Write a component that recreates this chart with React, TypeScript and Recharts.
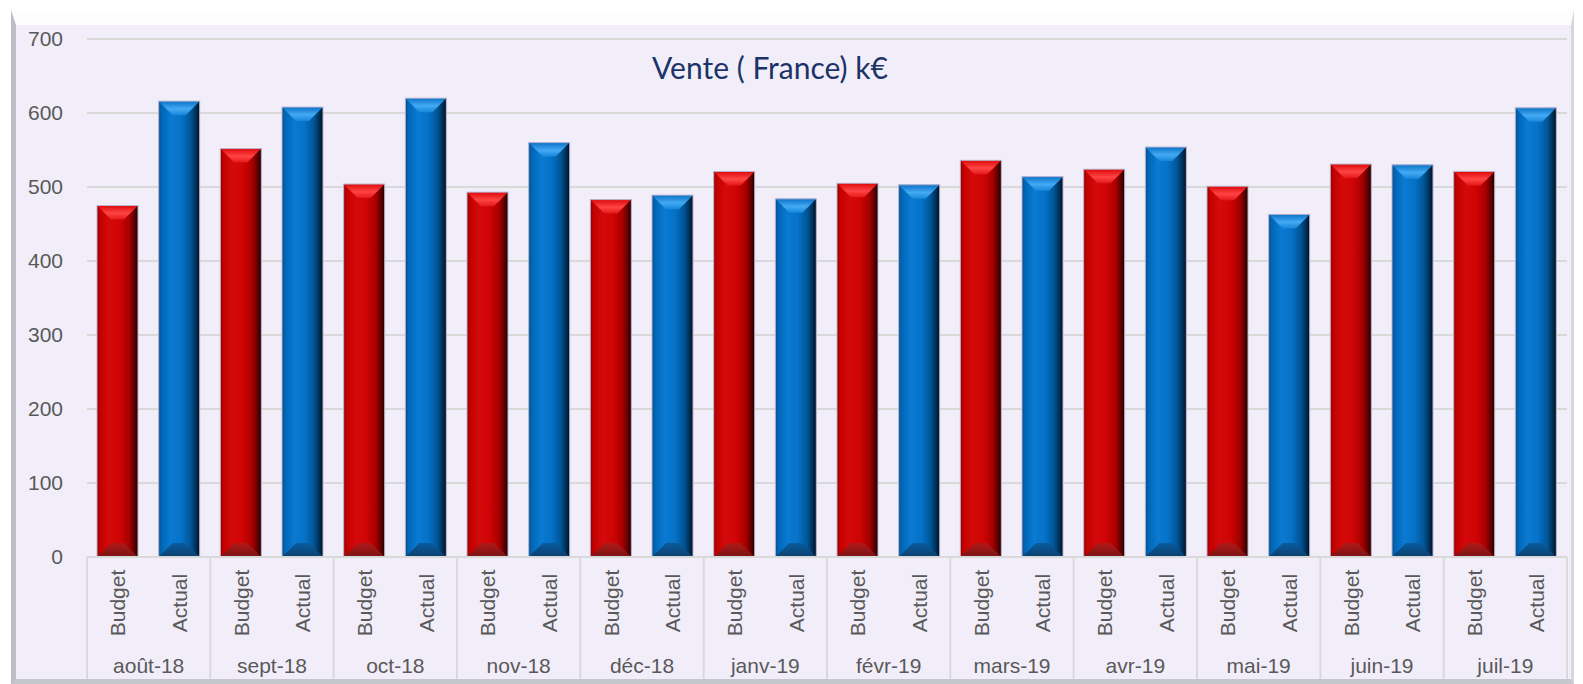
import { BarChart, Bar, XAxis, YAxis, CartesianGrid, Cell } from "recharts";

const months = [
  "août-18",
  "sept-18",
  "oct-18",
  "nov-18",
  "déc-18",
  "janv-19",
  "févr-19",
  "mars-19",
  "avr-19",
  "mai-19",
  "juin-19",
  "juil-19",
];
const kinds = ["Budget", "Actual"];
const budget = [475, 552, 504, 493, 483, 521, 505, 536, 524, 501, 531, 521];
const actual = [616, 608, 620, 560, 489, 484, 503, 514, 554, 463, 530, 607];
const yTicks = [0, 100, 200, 300, 400, 500, 600, 700];

const rows = months.flatMap((m, i) => [
  { slot: `${m} ${kinds[0]}`, month: m, kind: kinds[0], value: budget[i] },
  { slot: `${m} ${kinds[1]}`, month: m, kind: kinds[1], value: actual[i] },
]);

const W = 1583;
const H = 684;
const M = { top: 39, right: 16, bottom: 0, left: 0 };
const Y_W = 87;
const X_H = 127;
const SLOT = (W - M.left - M.right - Y_W) / rows.length;
const FONT = "'Liberation Sans', Arial, sans-serif";
const GRID = "#D9D9D9";

function BevelBar(props: any) {
  const { x, y, width: w, height: h, fill } = props;
  if (!h || h <= 0) return null;
  const k = fill === "red" ? "r" : "b";
  const b = Math.min(14, h / 2, w / 2);
  return (
    <g>
      <rect x={x} y={y} width={w} height={h} fill={`url(#${k}Body)`} />
      <polygon
        points={`${x},${y} ${x + w},${y} ${x + w - b},${y + b} ${x + b},${y + b}`}
        fill={`url(#${k}Top)`}
      />
      <polygon
        points={`${x},${y + h} ${x + w},${y + h} ${x + w - b},${y + h - b} ${x + b},${y + h - b}`}
        fill={`url(#${k}Bot)`}
      />
      <rect x={x} y={y} width={w} height={h} fill="none" stroke="#B9B4CF" strokeWidth={1} />
    </g>
  );
}

function CategoryTick(props: any) {
  const { x, y, index } = props;
  const row = rows[index];
  const first = index % 2 === 0;
  return (
    <g>
      <text
        x={x}
        y={y + 46}
        transform={`rotate(-90 ${x} ${y + 46})`}
        textAnchor="middle"
        dominantBaseline="central"
        fontFamily={FONT}
        fontSize={21}
        fill="#595959"
      >
        {row.kind}
      </text>
      {first && (
        <>
          <line x1={x - SLOT / 2} x2={x - SLOT / 2} y1={y} y2={y + 122} stroke={GRID} strokeWidth={2} />
          <text
            x={x + SLOT / 2}
            y={y + 108}
            textAnchor="middle"
            dominantBaseline="central"
            fontFamily={FONT}
            fontSize={21}
            fill="#595959"
          >
            {row.month}
          </text>
        </>
      )}
      {index === rows.length - 1 && (
        <line x1={x + SLOT / 2} x2={x + SLOT / 2} y1={y} y2={y + 122} stroke={GRID} strokeWidth={2} />
      )}
    </g>
  );
}

export default function App() {
  return (
    <div style={{ position: "absolute", left: 0, top: 0, width: W, height: H, background: "#fff" }}>
      <div
        style={{
          position: "absolute",
          left: 11,
          top: 10,
          width: 1570 - 11 - 4,
          height: 684 - 10 - 15 - 5,
          background: "#F2EEF9",
          borderTop: "15px solid #FDFDFE",
          borderLeft: "5px solid #BDBDC6",
          borderBottom: "5px solid #C6C6CE",
          borderRight: "3px solid #D6D6DE",
        }}
      />
      <div
        style={{
          position: "absolute",
          left: 570,
          top: 47,
          width: 400,
          textAlign: "center",
          fontFamily: "Lato, 'Open Sans', sans-serif",
          fontSize: 30,
          lineHeight: "40px",
          color: "#1B3368",
        }}
      >
        Vente ( France) k€
      </div>
      <div style={{ position: "absolute", left: 0, top: 0 }}>
        <BarChart width={W} height={H} data={rows} margin={M} barSize={41}>
          <defs>
            <linearGradient id="rBody" x1="0" y1="0" x2="1" y2="0">
              <stop offset="0%" stopColor="#8E0000" />
              <stop offset="7%" stopColor="#C20000" />
              <stop offset="30%" stopColor="#D40A0A" />
              <stop offset="55%" stopColor="#CF0404" />
              <stop offset="78%" stopColor="#A80000" />
              <stop offset="92%" stopColor="#580000" />
              <stop offset="100%" stopColor="#1E0000" />
            </linearGradient>
            <linearGradient id="rTop" x1="0" y1="0" x2="0" y2="1">
              <stop offset="0%" stopColor="#DD0A0A" />
              <stop offset="55%" stopColor="#FF4444" />
              <stop offset="100%" stopColor="#E41818" />
            </linearGradient>
            <linearGradient id="rBot" x1="0" y1="0" x2="0" y2="1">
              <stop offset="0%" stopColor="#B01818" />
              <stop offset="100%" stopColor="#7A1414" />
            </linearGradient>
            <linearGradient id="bBody" x1="0" y1="0" x2="1" y2="0">
              <stop offset="0%" stopColor="#084A86" />
              <stop offset="7%" stopColor="#0066B6" />
              <stop offset="30%" stopColor="#0A7AD2" />
              <stop offset="55%" stopColor="#0672C8" />
              <stop offset="78%" stopColor="#005596" />
              <stop offset="92%" stopColor="#002C52" />
              <stop offset="100%" stopColor="#000E1E" />
            </linearGradient>
            <linearGradient id="bTop" x1="0" y1="0" x2="0" y2="1">
              <stop offset="0%" stopColor="#0A72C8" />
              <stop offset="55%" stopColor="#44AAF4" />
              <stop offset="100%" stopColor="#1686DA" />
            </linearGradient>
            <linearGradient id="bBot" x1="0" y1="0" x2="0" y2="1">
              <stop offset="0%" stopColor="#0B5C9E" />
              <stop offset="100%" stopColor="#0A3F6E" />
            </linearGradient>
          </defs>
          <CartesianGrid vertical={false} stroke={GRID} strokeWidth={2} />
          <XAxis
            dataKey="slot"
            interval={0}
            height={X_H}
            tickLine={false}
            tickSize={0}
            tickMargin={0}
            axisLine={{ stroke: GRID, strokeWidth: 2 }}
            tick={<CategoryTick />}
          />
          <YAxis
            domain={[0, 700]}
            ticks={yTicks}
            width={Y_W}
            axisLine={false}
            tickLine={false}
            tickSize={0}
            tickMargin={24}
            tick={{ fontFamily: FONT, fontSize: 21, fill: "#595959" }}
          />
          <Bar dataKey="value" shape={<BevelBar />} isAnimationActive={false}>
            {rows.map((r, i) => (
              <Cell key={i} fill={r.kind === "Budget" ? "red" : "blue"} />
            ))}
          </Bar>
        </BarChart>
      </div>
    </div>
  );
}
